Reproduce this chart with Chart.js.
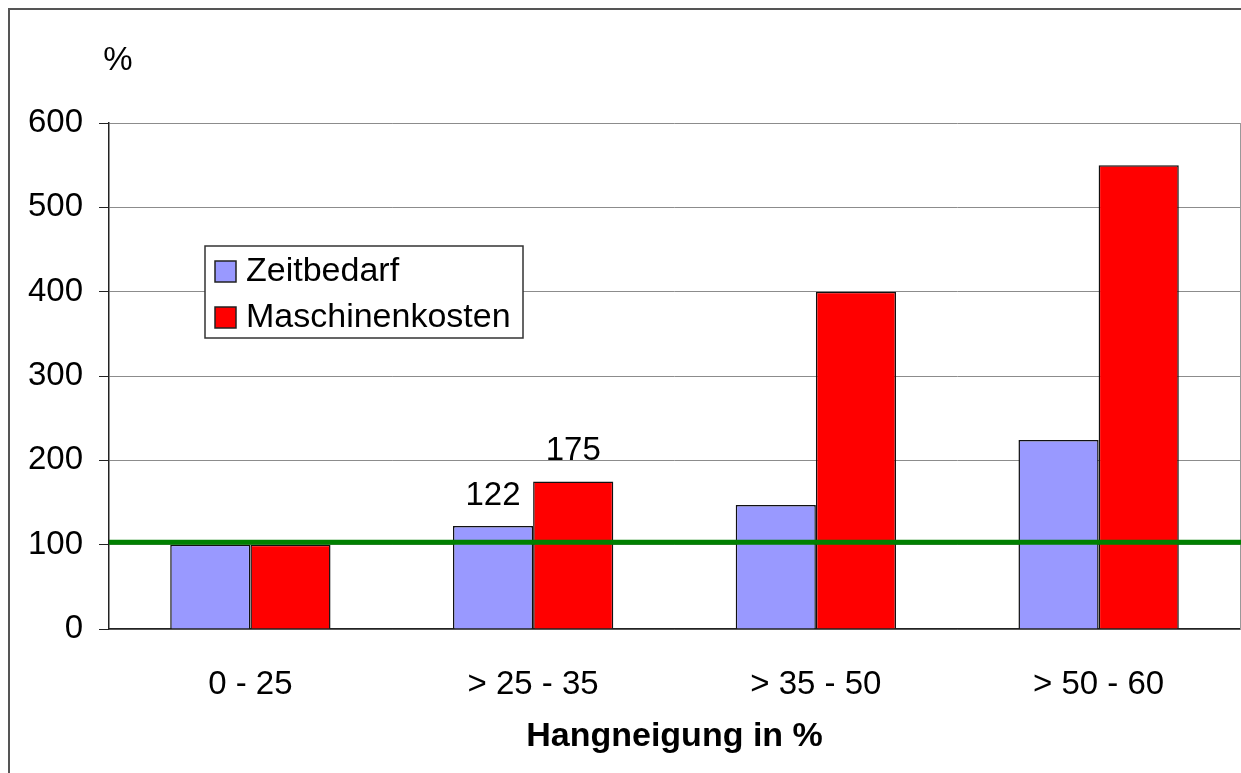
<!DOCTYPE html>
<html lang="de">
<head>
<meta charset="utf-8">
<title>Zeitbedarf und Maschinenkosten nach Hangneigung</title>
<script src="https://cdn.jsdelivr.net/npm/chart.js@4.4.1/dist/chart.umd.min.js"></script>
<style>
  html, body { margin: 0; padding: 0; background: #fff; }
  #wrap { width: 1241px; height: 773px; position: relative; }
</style>
</head>
<body>
<div id="wrap"><canvas id="chartHang"></canvas></div>
<script>
// Daten
const kategorien = ['0 - 25', '> 25 - 35', '> 35 - 50', '> 50 - 60'];
const zeitbedarf = [100, 122, 147, 224];
const maschinenkosten = [100, 175, 400, 550];
const yTicks = [0, 100, 200, 300, 400, 500, 600];
const referenzLinie = 103;
// nur diese Werte werden beschriftet: [dataset, kategorie]
const beschriftet = [[0, 1], [1, 1]];

const FONT = 'Liberation Sans, Arial, sans-serif';

// Rahmen, Bezugslinie, Werte, Legende und "%"-Titel
const extras = {
  id: 'extras',
  beforeDraw(chart) {
    const { ctx, width, height } = chart;
    ctx.save();
    ctx.strokeStyle = '#555';
    ctx.lineWidth = 2;
    ctx.beginPath();
    ctx.moveTo(9, height);
    ctx.lineTo(9, 9);
    ctx.lineTo(width, 9);
    ctx.stroke();
    ctx.restore();
  },
  afterDatasetsDraw(chart) {
    const { ctx, chartArea, width } = chart;
    const y = chart.scales.y;
    ctx.save();

    // rechte Begrenzung der Zeichenfläche
    ctx.strokeStyle = '#999';
    ctx.lineWidth = 1;
    ctx.beginPath();
    ctx.moveTo(Math.round(chartArea.right) + 0.5, chartArea.top);
    ctx.lineTo(Math.round(chartArea.right) + 0.5, chartArea.bottom);
    ctx.stroke();

    // grüne Bezugslinie
    const yp = y.getPixelForValue(referenzLinie);
    ctx.strokeStyle = '#008000';
    ctx.lineWidth = 5;
    ctx.beginPath();
    ctx.moveTo(chartArea.left, yp);
    ctx.lineTo(width, yp);
    ctx.stroke();

    // Datenbeschriftungen
    ctx.fillStyle = '#000';
    ctx.font = '33px ' + FONT;
    ctx.textAlign = 'center';
    ctx.textBaseline = 'alphabetic';
    beschriftet.forEach(([d, i]) => {
      const bar = chart.getDatasetMeta(d).data[i];
      const val = chart.data.datasets[d].data[i];
      ctx.fillText(String(val), bar.x, bar.y - 21);
    });

    // Legende
    const lx = 205, ly = 246, lw = 318, lh = 92;
    ctx.fillStyle = '#fff';
    ctx.fillRect(lx, ly, lw, lh);
    ctx.strokeStyle = '#333';
    ctx.lineWidth = 1.5;
    ctx.strokeRect(lx, ly, lw, lh);
    chart.data.datasets.forEach((ds, k) => {
      const cy = ly + 25 + k * 46;
      ctx.fillStyle = ds.backgroundColor;
      ctx.fillRect(lx + 10, cy - 10, 21, 21);
      ctx.strokeStyle = '#222';
      ctx.lineWidth = 1.5;
      ctx.strokeRect(lx + 10, cy - 10, 21, 21);
      ctx.fillStyle = '#000';
      ctx.textAlign = 'left';
      ctx.textBaseline = 'middle';
      ctx.font = '34px ' + FONT;
      ctx.fillText(ds.label, lx + 41, cy + 1);
    });

    // Einheit oben links
    ctx.textAlign = 'center';
    ctx.textBaseline = 'middle';
    ctx.font = '33px ' + FONT;
    ctx.fillText('%', chartArea.left + 9, 61);

    ctx.restore();
  }
};

new Chart(document.getElementById('chartHang').getContext('2d'), {
  type: 'bar',
  data: {
    labels: kategorien,
    datasets: [
      { label: 'Zeitbedarf', data: zeitbedarf, backgroundColor: '#9999FF', borderColor: '#111', borderWidth: 1.5 },
      { label: 'Maschinenkosten', data: maschinenkosten, backgroundColor: '#FF0000', borderColor: '#111', borderWidth: 1.5 }
    ]
  },
  options: {
    responsive: true, maintainAspectRatio: false, animation: false,
    layout: { padding: { left: 9, top: 123, right: 1, bottom: 0 } },
    datasets: { bar: { categoryPercentage: 0.567, barPercentage: 1.0 } },
    plugins: { legend: { display: false }, tooltip: { enabled: false } },
    scales: {
      x: {
        grid: { display: false },
        border: { display: true, color: '#222', width: 1.5 },
        ticks: { color: '#000', font: { family: FONT, size: 33 }, padding: 28, maxRotation: 0 },
        title: { display: true, text: 'Hangneigung in %', color: '#000',
          font: { family: FONT, size: 34, weight: 'bold' }, padding: { top: 0, bottom: 16 } },
        afterFit: s => { s.height = 144; }
      },
      y: {
        min: 0, max: 600,
        afterBuildTicks: s => { s.ticks = yTicks.map(v => ({ value: v })); },
        grid: { color: '#8c8c8c', lineWidth: 1, tickLength: 10, tickColor: '#222' },
        border: { display: true, color: '#222', width: 1.5 },
        ticks: { color: '#000', font: { family: FONT, size: 33 }, padding: 16 },
        afterFit: s => { s.width = 100; }
      }
    }
  },
  plugins: [extras]
});
</script>
</body>
</html>
